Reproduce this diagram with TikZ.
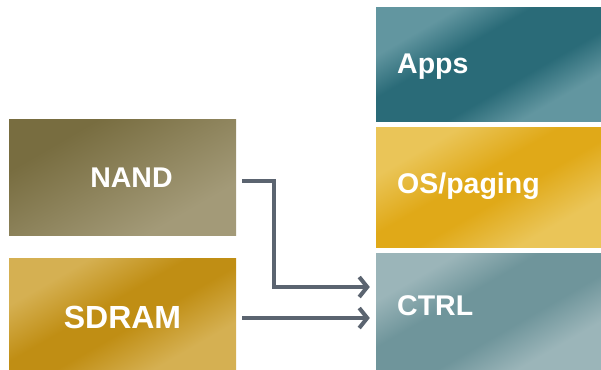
\documentclass[tikz,border=0pt]{standalone}
\usepackage{fontspec}
\setmainfont{Liberation Sans}
\usetikzlibrary{arrows.meta,calc}
\definecolor{appsL}{HTML}{6296A0}
\definecolor{appsD}{HTML}{2A6B78}
\definecolor{osL}{HTML}{EAC558}
\definecolor{osD}{HTML}{E0A918}
\definecolor{ctrlL}{HTML}{9BB5B9}
\definecolor{ctrlD}{HTML}{6F959B}
\definecolor{nandD}{HTML}{786D40}
\definecolor{nandL}{HTML}{A39A78}
\definecolor{sdL}{HTML}{D5B052}
\definecolor{sdD}{HTML}{C08E14}
\definecolor{arrowc}{HTML}{5B6470}
\pgfdeclarehorizontalshading{appsshade}{100bp}{color(0bp)=(appsL); color(29bp)=(appsL); color(41bp)=(appsD); color(59bp)=(appsD); color(71bp)=(appsL); color(100bp)=(appsL)}
\pgfdeclarehorizontalshading{osshade}{100bp}{color(0bp)=(osL); color(29bp)=(osL); color(45bp)=(osD); color(55bp)=(osD); color(71bp)=(osL); color(100bp)=(osL)}
\pgfdeclarehorizontalshading{ctrlshade}{100bp}{color(0bp)=(ctrlL); color(29bp)=(ctrlL); color(42bp)=(ctrlD); color(58bp)=(ctrlD); color(71bp)=(ctrlL); color(100bp)=(ctrlL)}
\pgfdeclarehorizontalshading{nandshade}{100bp}{color(0bp)=(nandD); color(30bp)=(nandD); color(70bp)=(nandL); color(100bp)=(nandL)}
\pgfdeclarehorizontalshading{sdramshade}{100bp}{color(0bp)=(sdL); color(29bp)=(sdL); color(45bp)=(sdD); color(55bp)=(sdD); color(71bp)=(sdL); color(100bp)=(sdL)}
\tikzset{
  box/.style={rectangle, inner sep=0pt, shading angle=-60},
  lbl/.style={inner sep=0pt, text=white, font=\fontsize{28.5}{34}\selectfont\bfseries},
  conn/.style={draw=arrowc, line width=4pt, -{Straight Barb[length=8pt,width=20pt,line width=4pt]}}
}
\begin{document}
\begin{tikzpicture}[x=1pt,y=-1pt]
\useasboundingbox (0,0) rectangle (601,369);
\node[box, shading=appsshade, minimum width=225pt, minimum height=113pt] (apps) at (488.5,64.5) {};
\node[box, shading=osshade, minimum width=225pt, minimum height=120pt] (os) at (488.5,187) {};
\node[box, shading=ctrlshade, minimum width=225pt, minimum height=116pt] (ctrl) at (488.5,311) {};
\node[box, shading=nandshade, minimum width=227pt, minimum height=116pt] (nand) at (122.5,177) {};
\node[box, shading=sdramshade, minimum width=227pt, minimum height=111pt] (sdram) at (122.5,313.5) {};
\node[lbl, anchor=base west] (appst) at (397,73) {Apps};
\node[lbl, anchor=base west] (ost) at (397,193) {OS/paging};
\node[lbl, anchor=base west] (ctrlt) at (397,315) {CTRL};
\node[lbl, anchor=base] (nandt) at (131.5,187) {NAND};
\node[lbl, anchor=base, font=\fontsize{32}{38}\selectfont\bfseries] (sdramt) at (122.5,328) {SDRAM};
\coordinate (n0) at ($(nand.east)+(6,3.5)$);
\coordinate (s0) at ($(sdram.east)+(6,4.5)$);
\draw[conn] (n0) -- (273.5,180.5) -- (273.5,287) -- ($(ctrl.west)+(-6,-24)$);
\draw[conn] (s0) -- ($(ctrl.west)+(-6,7)$);
\end{tikzpicture}
\end{document}
